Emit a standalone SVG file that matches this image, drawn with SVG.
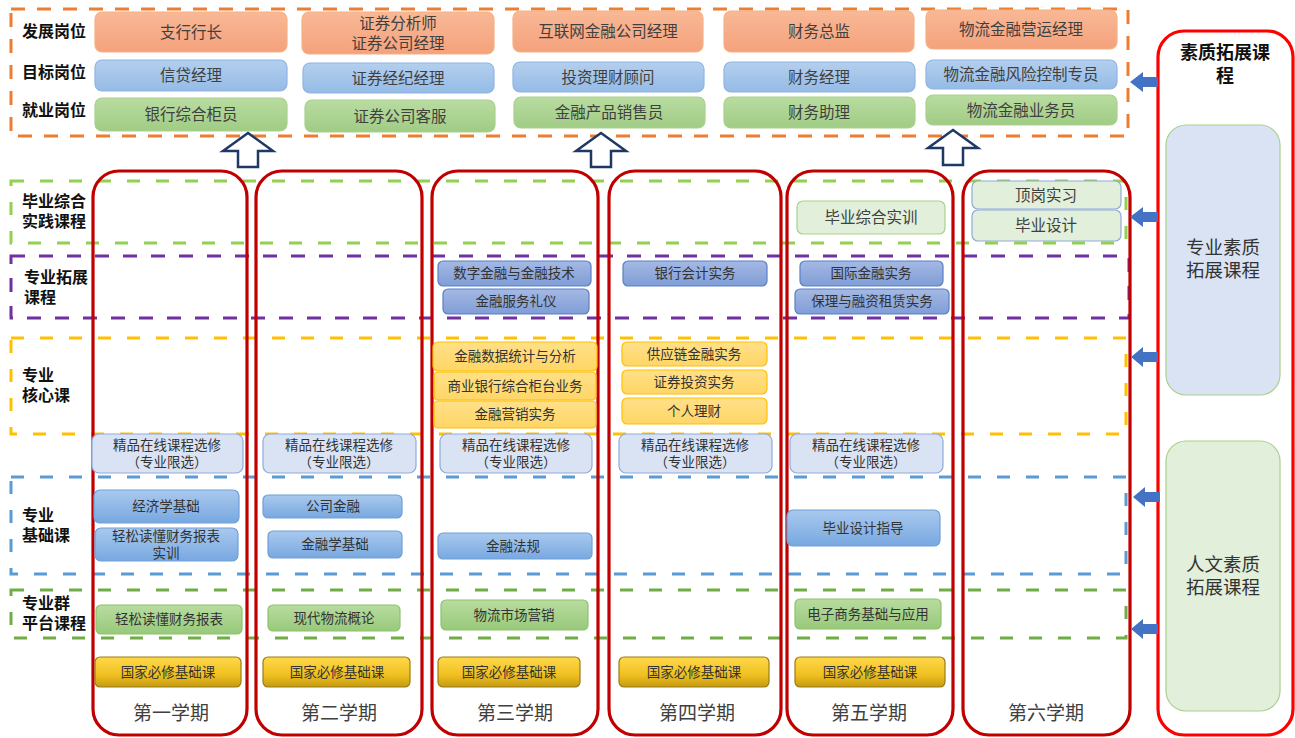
<svg xmlns="http://www.w3.org/2000/svg" width="1295" height="738" viewBox="0 0 1295 738">
<style>
text{font-family:"Liberation Sans","Noto Sans CJK SC",sans-serif;text-anchor:middle;dominant-baseline:central}
.lbl{font-size:16px;font-weight:bold;fill:#111;text-anchor:start}
.t15{font-size:15.5px;fill:#404040}
.t13{font-size:13.5px;fill:#333}
.sem{font-size:19px;fill:#404040}
.rt{font-size:18px;font-weight:bold;fill:#111}
.rs{font-size:18.5px;fill:#333}
.band{fill:none;stroke-width:3}
.col{fill:none;stroke:#c00000;stroke-width:3.2}
.org{fill:url(#gOrg);stroke:#f4b183;stroke-width:1.2}
.blu{fill:url(#gBlu);stroke:#8fb4e3;stroke-width:1.2}
.grn{fill:url(#gGrn);stroke:#a9d18e;stroke-width:1.2}
.pur{fill:url(#gPur);stroke:#5b7fc4;stroke-width:1.2}
.yel{fill:url(#gYel);stroke:#ffc000;stroke-width:1.2}
.sel{fill:#dae3f3;stroke:#8faadc;stroke-width:1.2}
.bas{fill:url(#gBas);stroke:#6fa0d8;stroke-width:1.2}
.plt{fill:url(#gPlt);stroke:#8cc46a;stroke-width:1.2}
.gold{fill:url(#gGold);stroke:#9c7c14;stroke-width:1.2}
.lg{fill:#e2efda;stroke:#a9d18e;stroke-width:1.2}
.lgb{fill:#e2efda;stroke:#8faadc;stroke-width:1.2}
.up{fill:#fff;stroke:#1f3864;stroke-width:2.5;stroke-linejoin:miter}
.la{fill:#4472c4}
</style>
<defs>
<linearGradient id="gOrg" x1="0" y1="0" x2="0" y2="1"><stop offset="0" stop-color="#f9b896"/><stop offset="1" stop-color="#f4a27c"/></linearGradient>
<linearGradient id="gBlu" x1="0" y1="0" x2="0" y2="1"><stop offset="0" stop-color="#b4cfee"/><stop offset="1" stop-color="#95bbe6"/></linearGradient>
<linearGradient id="gGrn" x1="0" y1="0" x2="0" y2="1"><stop offset="0" stop-color="#b9dca1"/><stop offset="1" stop-color="#a0cc84"/></linearGradient>
<linearGradient id="gPur" x1="0" y1="0" x2="0" y2="1"><stop offset="0" stop-color="#a5b9e4"/><stop offset="1" stop-color="#7f9dd6"/></linearGradient>
<linearGradient id="gYel" x1="0" y1="0" x2="0" y2="1"><stop offset="0" stop-color="#ffe08a"/><stop offset="1" stop-color="#ffd665"/></linearGradient>
<linearGradient id="gBas" x1="0" y1="0" x2="0" y2="1"><stop offset="0" stop-color="#a9c9ee"/><stop offset="1" stop-color="#78a8e0"/></linearGradient>
<linearGradient id="gPlt" x1="0" y1="0" x2="0" y2="1"><stop offset="0" stop-color="#b8dca0"/><stop offset="1" stop-color="#98c97a"/></linearGradient>
<linearGradient id="gGold" x1="0" y1="0" x2="0" y2="1"><stop offset="0" stop-color="#ffd84a"/><stop offset="0.6" stop-color="#f0c020"/><stop offset="1" stop-color="#c49a10"/></linearGradient>
</defs>
<rect width="1295" height="738" fill="#fff"/>

<g id="bands">
<rect x="11" y="9" width="1117" height="127" class="band" stroke="#ed7d31" stroke-dasharray="14 12"/>
<rect x="11" y="181" width="1115" height="62" class="band" stroke="#92d050" stroke-dasharray="13 16"/>
<rect x="11" y="256" width="1118" height="62" class="band" stroke="#7030a0" stroke-dasharray="14 14"/>
<rect x="11" y="338" width="1115" height="96" class="band" stroke="#ffc000" stroke-dasharray="13 16"/>
<rect x="11" y="477" width="1115" height="97" class="band" stroke="#5b9bd5" stroke-dasharray="13 16"/>
<rect x="11" y="590" width="1115" height="48" class="band" stroke="#70ad47" stroke-dasharray="13 16"/>
</g>

<g id="row-labels">
<text class="lbl" x="22" y="31">发展岗位</text>
<text class="lbl" x="22" y="72">目标岗位</text>
<text class="lbl" x="22" y="110">就业岗位</text>
<text class="lbl" x="22" y="201">毕业综合</text>
<text class="lbl" x="22" y="221">实践课程</text>
<text class="lbl" x="24" y="277">专业拓展</text>
<text class="lbl" x="24" y="297">课程</text>
<text class="lbl" x="22" y="375">专业</text>
<text class="lbl" x="22" y="395">核心课</text>
<text class="lbl" x="22" y="515">专业</text>
<text class="lbl" x="22" y="535">基础课</text>
<text class="lbl" x="22" y="603">专业群</text>
<text class="lbl" x="22" y="623">平台课程</text>
</g>

<g id="semester-columns">
<rect x="93" y="171" width="154" height="564" rx="26" class="col"/>
<rect x="256" y="171" width="166" height="564" rx="26" class="col"/>
<rect x="432" y="171" width="166" height="564" rx="26" class="col"/>
<rect x="609" y="171" width="172" height="564" rx="26" class="col"/>
<rect x="787" y="171" width="166" height="564" rx="26" class="col"/>
<rect x="963" y="171" width="167" height="564" rx="26" class="col"/>
<text class="sem" x="171" y="713">第一学期</text>
<text class="sem" x="339" y="713">第二学期</text>
<text class="sem" x="515" y="713">第三学期</text>
<text class="sem" x="697" y="713">第四学期</text>
<text class="sem" x="869" y="713">第五学期</text>
<text class="sem" x="1046" y="713">第六学期</text>
</g>

<g id="jobs-col1">
<rect x="95" y="12" width="192" height="40" rx="7" class="org"/><text class="t15" x="191" y="32">支行行长</text>
<rect x="95" y="60" width="192" height="31" rx="7" class="blu"/><text class="t15" x="191" y="75">信贷经理</text>
<rect x="95" y="98" width="192" height="33" rx="7" class="grn"/><text class="t15" x="191" y="114">银行综合柜员</text>
</g>
<g id="jobs-col2">
<rect x="302" y="12" width="192" height="42" rx="7" class="org"/><text class="t15" x="398" y="23">证券分析师</text><text class="t15" x="398" y="43">证券公司经理</text>
<rect x="303" y="63" width="191" height="30" rx="7" class="blu"/><text class="t15" x="398" y="78">证券经纪经理</text>
<rect x="305" y="100" width="190" height="32" rx="7" class="grn"/><text class="t15" x="400" y="116">证券公司客服</text>
</g>
<g id="jobs-col3">
<rect x="513" y="11" width="190" height="41" rx="7" class="org"/><text class="t15" x="608" y="31">互联网金融公司经理</text>
<rect x="513" y="62" width="191" height="30" rx="7" class="blu"/><text class="t15" x="608" y="77">投资理财顾问</text>
<rect x="514" y="97" width="191" height="31" rx="7" class="grn"/><text class="t15" x="609" y="112">金融产品销售员</text>
</g>
<g id="jobs-col4">
<rect x="724" y="11" width="190" height="41" rx="7" class="org"/><text class="t15" x="819" y="31">财务总监</text>
<rect x="724" y="62" width="191" height="30" rx="7" class="blu"/><text class="t15" x="819" y="77">财务经理</text>
<rect x="724" y="97" width="191" height="31" rx="7" class="grn"/><text class="t15" x="819" y="112">财务助理</text>
</g>
<g id="jobs-col5">
<rect x="926" y="10" width="191" height="39" rx="7" class="org"/><text class="t15" x="1021" y="29">物流金融营运经理</text>
<rect x="926" y="60" width="191" height="29" rx="7" class="blu"/><text class="t15" x="1021" y="74">物流金融风险控制专员</text>
<rect x="926" y="95" width="191" height="30" rx="7" class="grn"/><text class="t15" x="1021" y="110">物流金融业务员</text>
</g>

<g id="practice-courses">
<rect x="797" y="201" width="148" height="33" rx="6" class="lg"/><text class="t15" x="871" y="217">毕业综合实训</text>
<rect x="972" y="181" width="149" height="28" rx="6" class="lgb"/><text class="t15" x="1046" y="195">顶岗实习</text>
<rect x="972" y="210" width="149" height="31" rx="6" class="lgb"/><text class="t15" x="1046" y="225">毕业设计</text>
</g>

<g id="extension-courses">
<rect x="438" y="261" width="153" height="25" rx="5" class="pur"/><text class="t13" x="514" y="273">数字金融与金融技术</text>
<rect x="443" y="289" width="146" height="25" rx="5" class="pur"/><text class="t13" x="516" y="301">金融服务礼仪</text>
<rect x="623" y="261" width="144" height="25" rx="5" class="pur"/><text class="t13" x="695" y="273">银行会计实务</text>
<rect x="800" y="261" width="143" height="25" rx="5" class="pur"/><text class="t13" x="871" y="273">国际金融实务</text>
<rect x="795" y="289" width="154" height="25" rx="5" class="pur"/><text class="t13" x="872" y="301">保理与融资租赁实务</text>
</g>

<g id="core-courses">
<rect x="433" y="342" width="164" height="29" rx="5" class="yel"/><text class="t13" x="515" y="356">金融数据统计与分析</text>
<rect x="434" y="372" width="162" height="28" rx="4" class="yel"/><text class="t13" x="515" y="386">商业银行综合柜台业务</text>
<rect x="434" y="401" width="162" height="27" rx="4" class="yel"/><text class="t13" x="515" y="414">金融营销实务</text>
<rect x="622" y="342" width="145" height="24" rx="5" class="yel"/><text class="t13" x="694" y="354">供应链金融实务</text>
<rect x="622" y="370" width="145" height="24" rx="5" class="yel"/><text class="t13" x="694" y="382">证券投资实务</text>
<rect x="622" y="398" width="145" height="26" rx="5" class="yel"/><text class="t13" x="694" y="411">个人理财</text>
</g>

<g id="elective-courses">
<rect x="92" y="434" width="151" height="39" rx="7" class="sel"/><text class="t13" x="167" y="445">精品在线课程选修</text><text class="t13" x="167" y="462">（专业限选）</text>
<rect x="263" y="434" width="153" height="39" rx="7" class="sel"/><text class="t13" x="339" y="445">精品在线课程选修</text><text class="t13" x="339" y="462">（专业限选）</text>
<rect x="440" y="434" width="152" height="39" rx="7" class="sel"/><text class="t13" x="516" y="445">精品在线课程选修</text><text class="t13" x="516" y="462">（专业限选）</text>
<rect x="619" y="434" width="153" height="39" rx="7" class="sel"/><text class="t13" x="695" y="445">精品在线课程选修</text><text class="t13" x="695" y="462">（专业限选）</text>
<rect x="790" y="434" width="153" height="39" rx="7" class="sel"/><text class="t13" x="866" y="445">精品在线课程选修</text><text class="t13" x="866" y="462">（专业限选）</text>
</g>

<g id="foundation-courses">
<rect x="94" y="490" width="145" height="33" rx="6" class="bas"/><text class="t13" x="166" y="506">经济学基础</text>
<rect x="95" y="528" width="143" height="33" rx="6" class="bas"/><text class="t13" x="166" y="536">轻松读懂财务报表</text><text class="t13" x="166" y="553">实训</text>
<rect x="263" y="495" width="139" height="23" rx="5" class="bas"/><text class="t13" x="333" y="506">公司金融</text>
<rect x="268" y="531" width="134" height="27" rx="5" class="bas"/><text class="t13" x="335" y="544">金融学基础</text>
<rect x="438" y="533" width="154" height="26" rx="5" class="bas"/><text class="t13" x="513" y="546">金融法规</text>
<rect x="787" y="510" width="153" height="36" rx="6" class="bas"/><text class="t13" x="863" y="528">毕业设计指导</text>
</g>

<g id="platform-courses">
<rect x="96" y="605" width="146" height="29" rx="5" class="plt"/><text class="t13" x="169" y="619">轻松读懂财务报表</text>
<rect x="268" y="605" width="132" height="26" rx="5" class="plt"/><text class="t13" x="334" y="618">现代物流概论</text>
<rect x="441" y="600" width="147" height="30" rx="5" class="plt"/><text class="t13" x="514" y="615">物流市场营销</text>
<rect x="795" y="599" width="146" height="30" rx="5" class="plt"/><text class="t13" x="868" y="614">电子商务基础与应用</text>
</g>

<g id="national-courses">
<rect x="95" y="657" width="146" height="30" rx="5" class="gold"/><text class="t13" x="168" y="672">国家必修基础课</text>
<rect x="263" y="657" width="147" height="30" rx="5" class="gold"/><text class="t13" x="337" y="672">国家必修基础课</text>
<rect x="438" y="657" width="142" height="30" rx="5" class="gold"/><text class="t13" x="509" y="672">国家必修基础课</text>
<rect x="619" y="657" width="150" height="30" rx="5" class="gold"/><text class="t13" x="694" y="672">国家必修基础课</text>
<rect x="795" y="657" width="150" height="30" rx="5" class="gold"/><text class="t13" x="870" y="672">国家必修基础课</text>
</g>

<g id="quality-extension">
<rect x="1158" y="31" width="135" height="704" rx="26" fill="none" stroke="#ff0000" stroke-width="3.2"/>
<text class="rt" x="1225" y="53">素质拓展课</text>
<text class="rt" x="1225" y="76">程</text>
</g>
<g id="professional-quality">
<rect x="1166" y="125" width="114" height="270" rx="20" fill="#dae3f3" stroke="#a9d18e" stroke-width="1.2"/>
<text class="rs" x="1223" y="247">专业素质</text>
<text class="rs" x="1223" y="270">拓展课程</text>
</g>
<g id="humanities-quality">
<rect x="1166" y="441" width="114" height="270" rx="20" fill="#e2efda" stroke="#a9d18e" stroke-width="1.2"/>
<text class="rs" x="1223" y="564">人文素质</text>
<text class="rs" x="1223" y="587">拓展课程</text>
</g>

<g id="connectors">
<path class="up" d="M248,133 L273,151 L258,151 L258,167 L238,167 L238,151 L223,151 Z"/>
<path class="up" d="M601,133 L626,151 L611,151 L611,167 L591,167 L591,151 L576,151 Z"/>
<path class="up" d="M953,130 L978,148 L963,148 L963,165 L943,165 L943,148 L928,148 Z"/>
<path class="la" d="M1158,77 H1143 V72 L1130,82 L1143,92 V87 H1158 Z"/>
<path class="la" d="M1158,212 H1143 V207 L1130,217 L1143,227 V222 H1158 Z"/>
<path class="la" d="M1158,352 H1143 V347 L1131,357 L1143,367 V362 H1158 Z"/>
<path class="la" d="M1160,492 H1145 V487 L1133,497 L1145,507 V502 H1160 Z"/>
<path class="la" d="M1158,624 H1143 V619 L1131,629 L1143,639 V634 H1158 Z"/>
</g>
</svg>
